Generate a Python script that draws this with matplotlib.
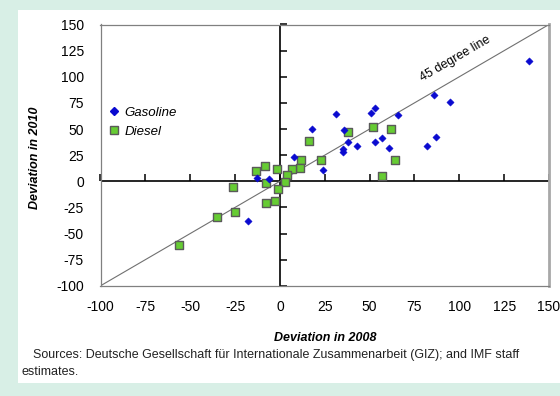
import matplotlib
matplotlib.use("Agg")
import matplotlib.pyplot as plt
import numpy as np
from matplotlib.patches import Rectangle
from matplotlib.lines import Line2D

# Deviations (percent) of retail fuel prices, 2008 vs 2010
gas_2008 = [139, 86, 95, 87, 82, 66, 53, 51, 31, 18, 36, 38, 43, 35, 35,
            53, 57, 61, 24, 8, -6, -18, -13]
gas_2010 = [115, 83, 76, 42, 34, 63, 70, 65, 64, 50, 49, 38, 34, 31, 28,
            38, 41, 32, 11, 23, 2, -38, 3]

diesel_2008 = [52, 62, 38, 16, 23, 64, 57, 12, 11, 7, 4, -1.5, -8.5, 3, -8,
               -1, -3, -8, -56, -35, -25, -26, -13.5]
diesel_2010 = [52, 50, 47, 39, 20, 20, 5, 20, 13, 12, 6, 12, 15, -1, -2,
               -7, -19, -21, -61, -34, -29, -5, 10]

ticks_x = [-100, -75, -50, -25, 0, 25, 50, 75, 100, 125, 150]
ticks_y = [-100, -75, -50, -25, 0, 25, 50, 75, 100, 125, 150]
diag = [-100, 150]

FONT = ["Liberation Sans", "DejaVu Sans"]
plt.rcParams["font.family"] = FONT

W, H = 560, 396
fig = plt.figure(figsize=(W / 100, H / 100), dpi=100)
fig.patch.set_facecolor("#d8efe6")
fig.patches.append(Rectangle((18 / W, 1 - 383 / H), 1 - 18 / W, (383 - 10) / H,
                             transform=fig.transFigure, facecolor="white",
                             edgecolor="none", zorder=-5))

ax = fig.add_axes([100.5 / W, 1 - 285.8 / H, (549 - 100.5) / W, (285.8 - 24.5) / H])
ax.set_zorder(2)
ax.set_facecolor("white")
ax.set_xlim(-100, 150)
ax.set_ylim(-100, 150)
ax.set_xticks(ticks_x)
ax.set_yticks(ticks_y)
ax.set_xticklabels([f"{t:d}" for t in ticks_x])
ax.set_yticklabels([f"{t:d}" for t in ticks_y])
ax.tick_params(length=0, labelsize=10, pad=12, colors="black")
ax.tick_params(axis="x", pad=10)

for s in ["left", "bottom", "top"]:
    ax.spines[s].set_color("#808080")
    ax.spines[s].set_linewidth(0.9)
ax.spines["right"].set_color("#a8a8a8")
ax.spines["right"].set_linewidth(2)

# zero axes with their own tick marks
ax.axhline(0, color="black", lw=1.2, zorder=2)
ax.axvline(0, color="black", lw=1.2, zorder=2)
ax.plot(ticks_x, np.zeros(len(ticks_x)), ls="none", marker=2, ms=5,
        mew=1.1, color="black", zorder=2, clip_on=False)
ax.plot(np.zeros(len(ticks_y)), ticks_y, ls="none", marker=1, ms=5,
        mew=1.1, color="black", zorder=2, clip_on=False)

# 45 degree line
ax.plot(diag, diag, color="#707070", lw=0.8, zorder=2)
ax.text(98, 117, "45 degree line", rotation=30.2, ha="center", va="center",
        fontsize=9, color="black", rotation_mode="anchor")

ax.scatter(gas_2008, gas_2010, marker="D", s=14, color="#0a0ad0",
           edgecolors="#0a0ad0", linewidths=0.3, zorder=4)
ax.scatter(diesel_2008, diesel_2010, marker="s", s=40, color="#66cc33",
           edgecolors="#5a5a5a", linewidths=1.0, zorder=3)

handles = [
    Line2D([], [], ls="none", marker="D", ms=4, color="#0a0ad0"),
    Line2D([], [], ls="none", marker="s", ms=6, markerfacecolor="#66cc33",
           markeredgecolor="#5a5a5a", mew=1.0),
]
leg = ax.legend(handles, ["Gasoline", "Diesel"], loc="upper left",
                bbox_to_anchor=(-0.008, 0.731), frameon=False,
                handlelength=0.8, handletextpad=0.4, labelspacing=0.5,
                prop={"family": FONT, "style": "italic", "size": 9.5})

ax.set_xlabel("Deviation in 2008", fontsize=9, fontweight="bold",
              fontstyle="italic", labelpad=13)
fig.text(35 / W, 1 - 158 / H, "Deviation in 2010", rotation=90, ha="center",
         va="center", fontsize=9, fontweight="bold", fontstyle="italic")

fig.text(33 / W, 1 - 355 / H,
         "Sources: Deutsche Gesellschaft für Internationale Zusammenarbeit (GIZ); and IMF staff",
         ha="left", va="center", fontsize=9, color="#222222")
fig.text(21 / W, 1 - 372 / H, "estimates.", ha="left", va="center",
         fontsize=9, color="#222222")

fig.savefig("out.png", dpi=100, facecolor=fig.get_facecolor())
